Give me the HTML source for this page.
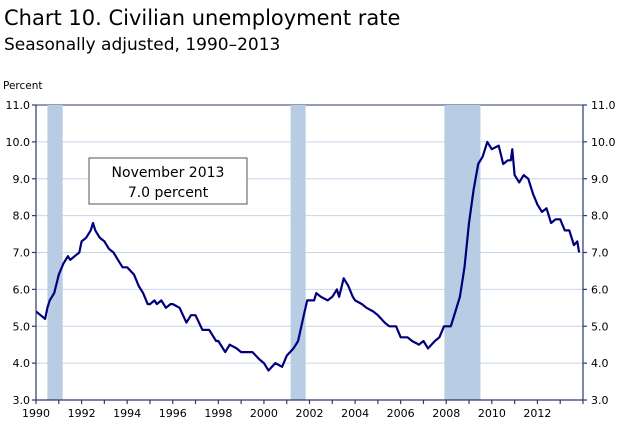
<!DOCTYPE html>
<html><head><meta charset="utf-8"><style>
body{margin:0;background:#fff;font-family:"DejaVu Sans","Liberation Sans",sans-serif;}
</style></head><body>
<svg id="s" width="620" height="428" xmlns="http://www.w3.org/2000/svg" font-family="DejaVu Sans, Liberation Sans, sans-serif">
<text x="4" y="25" font-size="21" fill="#000">Chart 10.  Civilian unemployment rate</text>
<text x="4" y="50" font-size="17" fill="#000">Seasonally adjusted, 1990–2013</text>
<text x="3" y="89" font-size="10.5" fill="#000">Percent</text>
<g id="grid"></g>
<g id="rec" fill="#b8cce4"></g>
<rect x="89" y="158" width="158" height="46" fill="#fff" stroke="#555" stroke-width="1"/>
<text x="168" y="177" font-size="14" text-anchor="middle">November 2013</text>
<text x="168" y="197" font-size="14" text-anchor="middle">7.0 percent</text>
<polyline id="ln" fill="none" stroke="#00007f" stroke-width="2.2" stroke-linejoin="round"/>
<g id="ax" stroke="#2a3a6a" stroke-width="1.2"></g>
<g id="lb" font-size="11" fill="#000"></g>
</svg>
<script>
var L=36,R=583,T=105,B=400;
function X(y){return L+(y-1990)*(R-L)/24;}
function Y(v){return B-(v-3)*(B-T)/8;}
var ns="http://www.w3.org/2000/svg";
function el(p,t,a,txt){var e=document.createElementNS(ns,t);for(var k in a)e.setAttribute(k,a[k]);if(txt!==undefined)e.textContent=txt;document.getElementById(p).appendChild(e);return e;}
for(var v=4;v<=10;v++)el("grid","line",{x1:L,x2:R,y1:Y(v),y2:Y(v),stroke:"#c6d6ea","stroke-width":1});
el("grid","line",{x1:L,x2:R,y1:T,y2:T,stroke:"#2a3a6a","stroke-width":1});
[[1990.5,1991.17],[2001.17,2001.83],[2007.92,2009.5]].forEach(function(r){el("rec","rect",{x:X(r[0]),y:T,width:X(r[1])-X(r[0]),height:B-T});});
var d=[1990,5.4,1990.2,5.3,1990.4,5.2,1990.5,5.5,1990.6,5.7,1990.8,5.9,1991,6.4,1991.2,6.7,1991.4,6.9,1991.5,6.8,1991.7,6.9,1991.9,7.0,1992,7.3,1992.2,7.4,1992.4,7.6,1992.5,7.8,1992.6,7.6,1992.8,7.4,1993,7.3,1993.2,7.1,1993.4,7.0,1993.6,6.8,1993.8,6.6,1994,6.6,1994.3,6.4,1994.5,6.1,1994.7,5.9,1994.9,5.6,1995,5.6,1995.2,5.7,1995.3,5.6,1995.5,5.7,1995.7,5.5,1995.9,5.6,1996,5.6,1996.3,5.5,1996.6,5.1,1996.8,5.3,1997,5.3,1997.3,4.9,1997.6,4.9,1997.9,4.6,1998,4.6,1998.3,4.3,1998.5,4.5,1998.8,4.4,1999,4.3,1999.3,4.3,1999.5,4.3,1999.8,4.1,2000,4.0,2000.2,3.8,2000.5,4.0,2000.8,3.9,2001,4.2,2001.3,4.4,2001.5,4.6,2001.75,5.3,2001.9,5.7,2002.2,5.7,2002.3,5.9,2002.5,5.8,2002.8,5.7,2003,5.8,2003.2,6.0,2003.3,5.8,2003.5,6.3,2003.7,6.1,2003.9,5.8,2004,5.7,2004.3,5.6,2004.5,5.5,2004.8,5.4,2005,5.3,2005.3,5.1,2005.5,5.0,2005.8,5.0,2006,4.7,2006.3,4.7,2006.5,4.6,2006.8,4.5,2007,4.6,2007.2,4.4,2007.5,4.6,2007.7,4.7,2007.9,5.0,2008.2,5.0,2008.4,5.4,2008.6,5.8,2008.8,6.6,2009,7.8,2009.2,8.7,2009.4,9.4,2009.6,9.6,2009.8,10.0,2010,9.8,2010.3,9.9,2010.5,9.4,2010.7,9.5,2010.83,9.5,2010.9,9.8,2011,9.1,2011.2,8.9,2011.4,9.1,2011.6,9.0,2011.8,8.6,2012,8.3,2012.2,8.1,2012.4,8.2,2012.6,7.8,2012.8,7.9,2013,7.9,2013.2,7.6,2013.4,7.6,2013.6,7.2,2013.75,7.3,2013.83,7.0];
var p=[];for(var i=0;i<d.length;i+=2)p.push(X(d[i]).toFixed(1)+","+Y(d[i+1]).toFixed(1));
document.getElementById("ln").setAttribute("points",p.join(" "));
el("ax","line",{x1:L,x2:L,y1:T,y2:B});el("ax","line",{x1:R,x2:R,y1:T,y2:B});el("ax","line",{x1:L,x2:R,y1:B,y2:B});
for(var v=3;v<=11;v++){el("ax","line",{x1:L-4,x2:L,y1:Y(v),y2:Y(v)});el("ax","line",{x1:R,x2:R+4,y1:Y(v),y2:Y(v)});
el("lb","text",{x:L-6,y:Y(v)+4,"text-anchor":"end"},v.toFixed(1));el("lb","text",{x:R+8,y:Y(v)+4},v.toFixed(1));}
for(var y=1990;y<=2014;y++){el("ax","line",{x1:X(y),x2:X(y),y1:B,y2:B+4});if(y%2==0&&y<2014)el("lb","text",{x:X(y),y:B+17,"text-anchor":"middle"},y);}
</script>
</body></html>
